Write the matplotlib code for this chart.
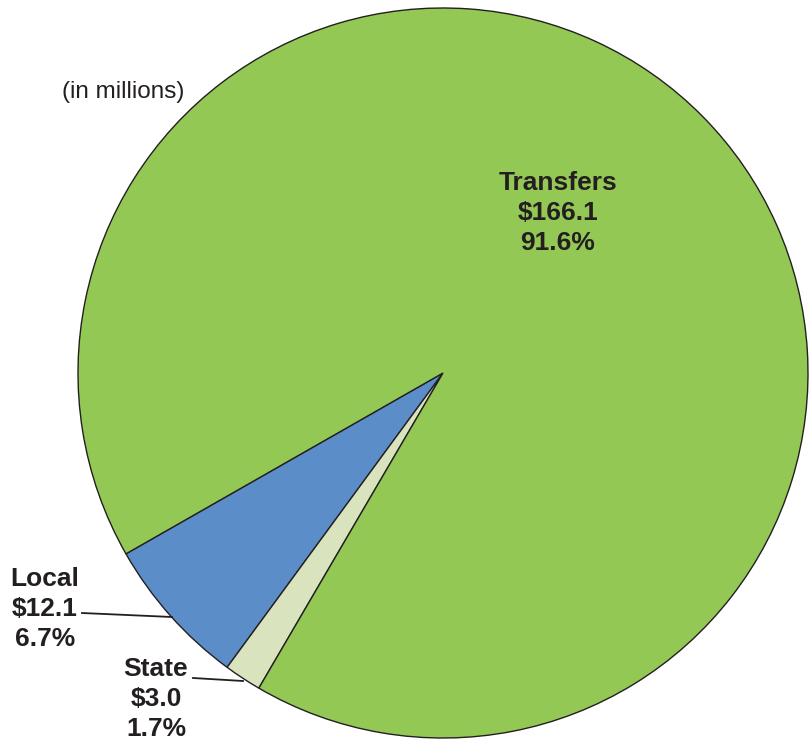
import matplotlib.pyplot as plt

# datos del grafico (en millones)
categorias = ['Local', 'State', 'Transfers']
valores = [12.1, 3.0, 166.1]
porcentajes = [6.7, 1.7, 91.6]
colores = ['#5b8dc9', '#d9e4bf', '#94c855']

plt.rcParams['font.family'] = ['Liberation Sans', 'DejaVu Sans']

fig = plt.figure(figsize=(8.09, 7.44), dpi=100)
ax = fig.add_axes([0, 0, 1, 1])

cx, cy, r = 443, 371, 365
ax.pie(valores, colors=colores, startangle=209.7, counterclock=True,
       center=(cx, cy), radius=r, frame=True,
       wedgeprops=dict(edgecolor='#231f20', linewidth=1.0))
ax.set_xlim(0, 809)
ax.set_ylim(0, 744)
ax.axis('off')

def etiqueta(i):
    return f"{categorias[i]}\n${valores[i]:.1f}\n{porcentajes[i]:.1f}%"

estilo = dict(fontsize=19, fontweight='bold', color='#231f20',
              ha='center', va='center', linespacing=1.3)
ax.text(558, 531, etiqueta(2), **estilo)
ax.text(45, 135, etiqueta(0), **estilo)
ax.text(156, 45, etiqueta(1), **estilo)

# lineas guia
ax.plot([82, 172], [131, 127], color='#231f20', lw=1.3)
ax.plot([193, 243], [66, 63], color='#231f20', lw=1.3)

ax.text(62, 652, '(in millions)', fontsize=17.5, color='#231f20',
        ha='left', va='center')

fig.savefig('out.png', dpi=100)
